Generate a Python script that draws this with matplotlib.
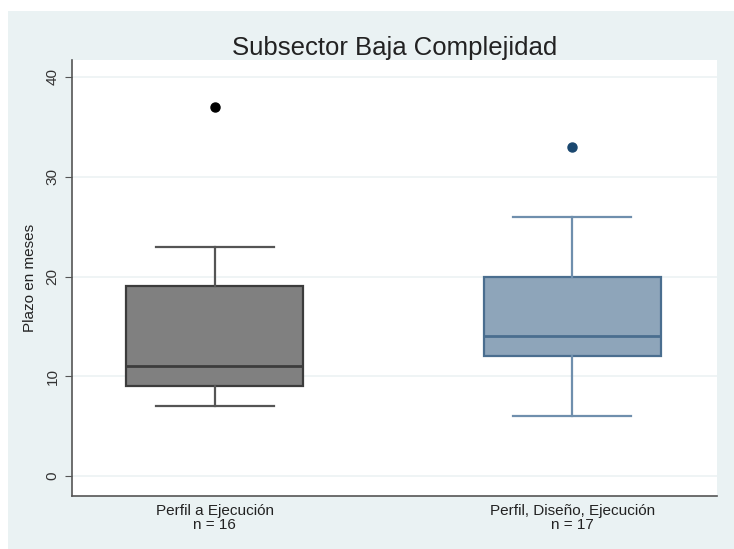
import numpy as np
import matplotlib.pyplot as plt
from matplotlib.patches import Rectangle

plt.rcParams['font.family'] = ['Liberation Sans', 'DejaVu Sans']

# Datos (plazo en meses)
grupos = ['Perfil a Ejecución', 'Perfil, Diseño, Ejecución']
n_obs = [16, 17]
q1 = [9, 12]
mediana = [11, 14]
q3 = [19, 20]
bigote_inf = [7, 6]
bigote_sup = [23, 26]
atipicos = [[37], [33]]

relleno = ['#808080', '#8EA5BA']
borde = ['#3C3C3C', '#4A6E8F']
bigote_col = ['#555555', '#6F8FAD']
punto_col = ['#000000', '#1A476F']

fig = plt.figure(figsize=(7.34, 5.49), dpi=100)
fig.patch.set_facecolor('white')
fondo = Rectangle((8 / 734, -0.05), 1.1, 1.05 - 11 / 549, transform=fig.transFigure,
                  facecolor='#EAF2F3', edgecolor='none', zorder=-10)
fig.add_artist(fondo)

ax = fig.add_axes([72 / 734, 53 / 549, 645 / 734, 436 / 549])
ax.set_facecolor('white')

for i in range(len(grupos)):
    stats = [dict(med=mediana[i], q1=q1[i], q3=q3[i], whislo=bigote_inf[i],
                  whishi=bigote_sup[i], fliers=atipicos[i])]
    ax.bxp(stats, positions=[i + 1], widths=0.495, patch_artist=True, showfliers=True,
           boxprops=dict(facecolor=relleno[i], edgecolor=borde[i], linewidth=1.6),
           medianprops=dict(color=borde[i], linewidth=2.0),
           whiskerprops=dict(color=bigote_col[i], linewidth=1.6),
           capprops=dict(color=bigote_col[i], linewidth=1.6),
           capwidths=0.33,
           flierprops=dict(marker='o', markersize=6.5, markerfacecolor=punto_col[i],
                           markeredgecolor=punto_col[i]))

ax.set_xlim(0.6, 2.405)
ax.set_ylim(-2, 41.7)
ax.set_yticks([0, 10, 20, 30, 40])
ax.set_yticklabels(['0', '10', '20', '30', '40'], rotation=90, va='center', fontsize=11, color='#333333')
ax.set_xticks([1, 2])
ax.set_xticklabels([f'{g}\nn = {n}' for g, n in zip(grupos, n_obs)],
                   fontsize=11, color='#222222', linespacing=0.95)
ax.tick_params(axis='x', length=0, pad=6)
ax.tick_params(axis='y', length=5, color='#555555', pad=4)
ax.yaxis.grid(True, color='#EEF3F4', linewidth=1.3)
ax.set_axisbelow(True)

for s in ['top', 'right']:
    ax.spines[s].set_visible(False)
for s in ['left', 'bottom']:
    ax.spines[s].set_color('#555555')
    ax.spines[s].set_linewidth(1.2)

ax.set_ylabel('Plazo en meses', fontsize=11, color='#222222', labelpad=6)
ax.set_title('Subsector Baja Complejidad', fontsize=18.5, color='#222222', pad=3)

plt.savefig('out.png', dpi=100)
